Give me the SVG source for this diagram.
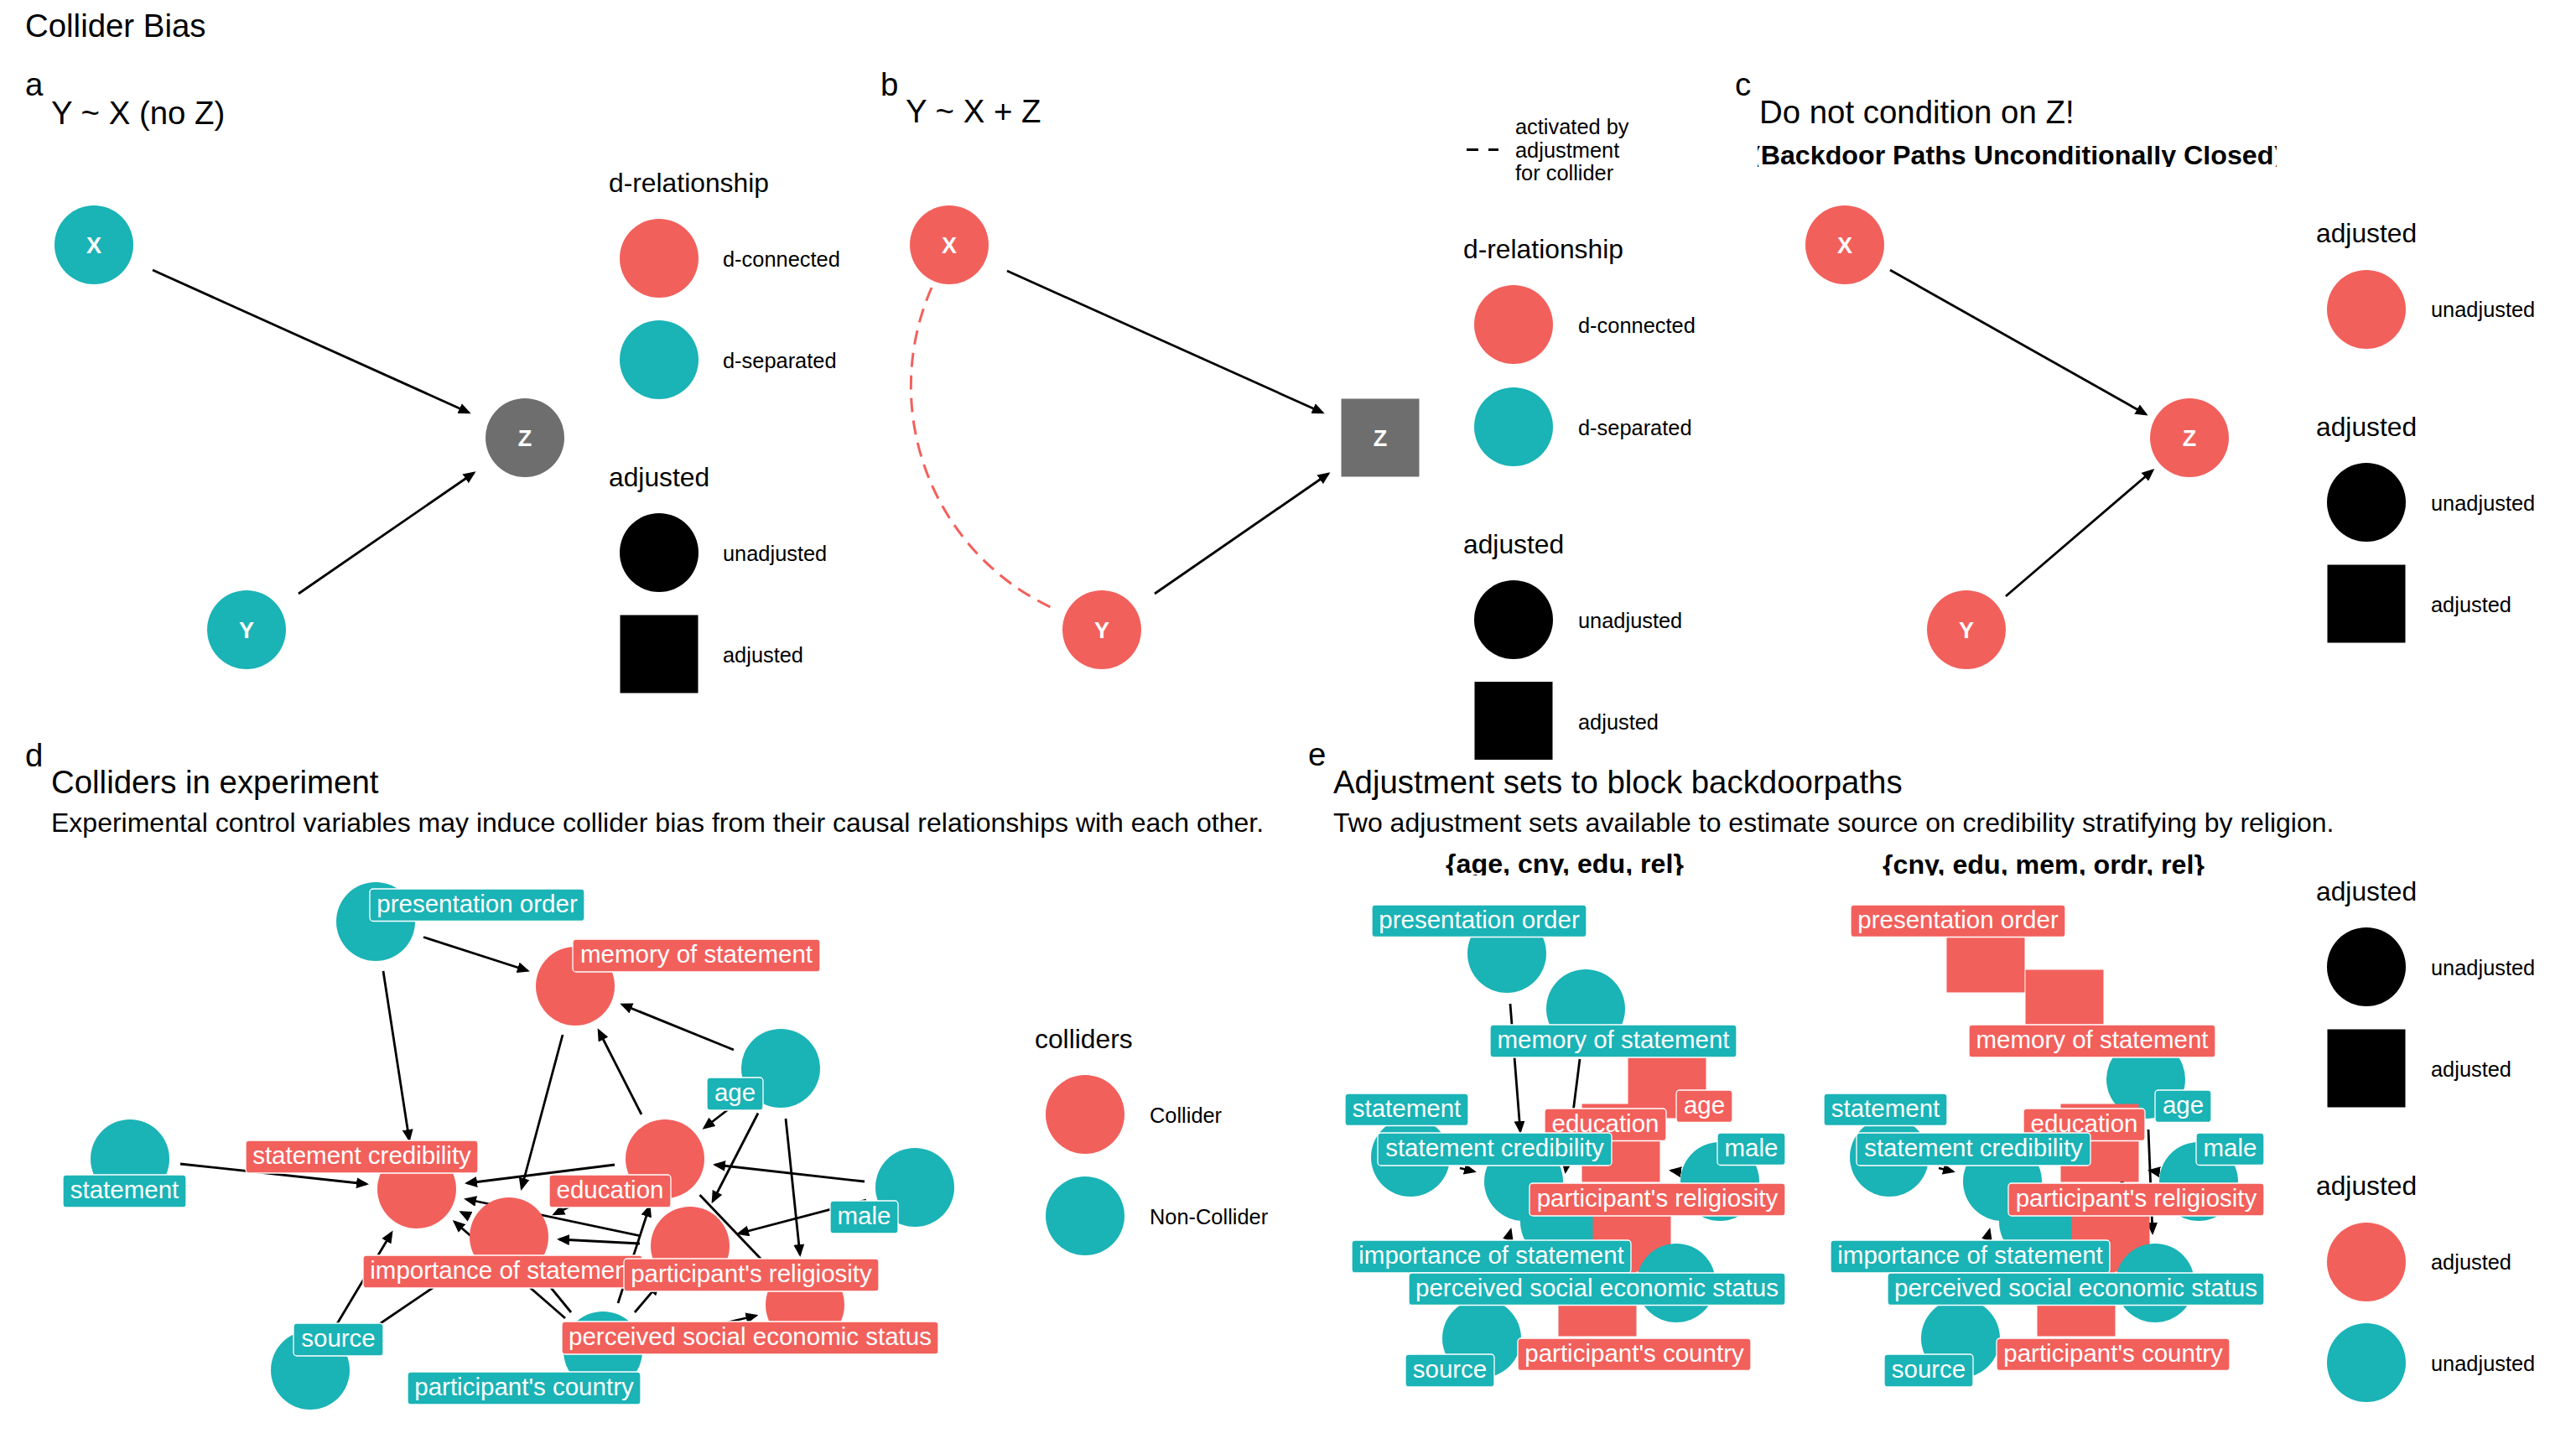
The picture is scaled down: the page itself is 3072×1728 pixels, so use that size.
<svg xmlns="http://www.w3.org/2000/svg" width="3072" height="1728" viewBox="0 0 3072 1728">
<style>
text{font-family:"Liberation Sans",Arial,Helvetica,sans-serif;fill:#000}
.ttl{font-size:38.4px}
.sub{font-size:32px}
.subb{font-size:32.2px;font-weight:bold}
.lt{font-size:31.8px}
.lx{font-size:25.4px}
.let{font-size:27px;font-weight:bold;fill:#fff;text-anchor:middle}
.nl{font-size:29.5px;fill:#fff;text-anchor:middle}
.r{fill:#F2605C}
.c{fill:#1AB3B6}
.g{fill:#6E6E6E}
.k{fill:#000}
.lr{fill:#F2605C;stroke:#fff;stroke-width:1.3}
.lc{fill:#1AB3B6;stroke:#fff;stroke-width:1.3}
.e{stroke:#000;stroke-width:2.8;fill:none;marker-end:url(#arr)}
</style>
<defs>
<marker id="arr" viewBox="0 0 15 13" refX="12" refY="6.5" markerWidth="15" markerHeight="13" markerUnits="userSpaceOnUse" orient="auto">
<path d="M0,0 L15,6.5 L0,13 z" fill="#000"/>
</marker>
<clipPath id="clipc"><rect x="2096" y="174" width="619" height="25"/></clipPath>
<clipPath id="clips"><rect x="1590" y="1017" width="1150" height="27"/></clipPath>
</defs>
<rect width="3072" height="1728" fill="#fff"/>

<text class="ttl" x="30" y="44">Collider Bias</text>

<!-- Panel a -->
<g id="panel-a">
<text class="ttl" x="30" y="114">a</text>
<text class="ttl" x="61" y="148">Y ~ X (no Z)</text>
<g id="a-edges">
<path class="e" d="M182,322 L559,492"/>
<path class="e" d="M356,708 L565,564"/>
</g>
<g id="a-X"><circle class="c" cx="112" cy="292" r="47"/><text class="let" x="112" y="302">X</text></g>
<g id="a-Z"><circle class="g" cx="626" cy="522" r="47"/><text class="let" x="626" y="532">Z</text></g>
<g id="a-Y"><circle class="c" cx="294" cy="751" r="47"/><text class="let" x="294" y="761">Y</text></g>
<g id="a-legend">
<text class="lt" x="726" y="229">d-relationship</text>
<circle class="r" cx="786" cy="308" r="47"/><text class="lx" x="862" y="318">d-connected</text>
<circle class="c" cx="786" cy="429" r="47"/><text class="lx" x="862" y="439">d-separated</text>
<text class="lt" x="726" y="580">adjusted</text>
<circle class="k" cx="786" cy="659" r="47"/><text class="lx" x="862" y="669">unadjusted</text>
<rect class="k" x="739.5" y="733.5" width="93" height="93"/><text class="lx" x="862" y="790">adjusted</text>
</g>
</g>

<!-- Panel b -->
<g id="panel-b">
<text class="ttl" x="1050" y="114">b</text>
<text class="ttl" x="1080" y="146">Y ~ X + Z</text>
<g id="b-edges">
<path d="M1111,343 A292,292 0 0 0 1257,726" fill="none" stroke="#F2605C" stroke-width="3" stroke-dasharray="17,10"/>
<path class="e" d="M1201,323 L1577,492"/>
<path class="e" d="M1377,708 L1584,565"/>
</g>
<g id="b-X"><circle class="r" cx="1132" cy="292" r="47"/><text class="let" x="1132" y="302">X</text></g>
<g id="b-Z"><rect class="g" x="1599.5" y="475.5" width="93" height="93"/><text class="let" x="1646" y="532">Z</text></g>
<g id="b-Y"><circle class="r" cx="1314" cy="751" r="47"/><text class="let" x="1314" y="761">Y</text></g>
<g id="b-legend">
<path d="M1749,178.5 H1763 M1775,178.5 H1787" stroke="#000" stroke-width="3"/>
<text class="lx" x="1807" y="160">activated by</text>
<text class="lx" x="1807" y="188">adjustment</text>
<text class="lx" x="1807" y="215">for collider</text>
<text class="lt" x="1745" y="308">d-relationship</text>
<circle class="r" cx="1805" cy="387" r="47"/><text class="lx" x="1882" y="397">d-connected</text>
<circle class="c" cx="1805" cy="509" r="47"/><text class="lx" x="1882" y="519">d-separated</text>
<text class="lt" x="1745" y="660">adjusted</text>
<circle class="k" cx="1805" cy="739" r="47"/><text class="lx" x="1882" y="749">unadjusted</text>
<rect class="k" x="1758.5" y="813" width="93" height="93"/><text class="lx" x="1882" y="870">adjusted</text>
</g>
</g>

<!-- Panel c -->
<g id="panel-c">
<text class="ttl" x="2069" y="114">c</text>
<text class="ttl" x="2098" y="147">Do not condition on Z!</text>
<text class="subb" x="2089" y="196" clip-path="url(#clipc)">(Backdoor Paths Unconditionally Closed)</text>
<g id="c-edges">
<path class="e" d="M2254,322 L2559,494"/>
<path class="e" d="M2392,711 L2567,561"/>
</g>
<g id="c-X"><circle class="r" cx="2200" cy="292" r="47"/><text class="let" x="2200" y="302">X</text></g>
<g id="c-Z"><circle class="r" cx="2611" cy="522" r="47"/><text class="let" x="2611" y="532">Z</text></g>
<g id="c-Y"><circle class="r" cx="2345" cy="751" r="47"/><text class="let" x="2345" y="761">Y</text></g>
<g id="c-legend">
<text class="lt" x="2762" y="289">adjusted</text>
<circle class="r" cx="2822" cy="369" r="47"/><text class="lx" x="2899" y="378">unadjusted</text>
<text class="lt" x="2762" y="520">adjusted</text>
<circle class="k" cx="2822" cy="599" r="47"/><text class="lx" x="2899" y="609">unadjusted</text>
<rect class="k" x="2775.5" y="673.5" width="93" height="93"/><text class="lx" x="2899" y="730">adjusted</text>
</g>
</g>

<!-- Panel d -->
<g id="panel-d">
<text class="ttl" x="30" y="914">d</text>
<text class="ttl" x="61" y="946">Colliders in experiment</text>
<text class="sub" x="61" y="992">Experimental control variables may induce collider bias from their causal relationships with each other.</text>
<g id="d-edges">
<path class="e" d="M505,1117.5 L629,1157.5"/>
<path class="e" d="M457,1158 L488,1359"/>
<path class="e" d="M875,1252 L742,1198"/>
<path class="e" d="M765,1329 L714,1229"/>
<path class="e" d="M671,1234 L622,1417"/>
<path class="e" d="M884,1311 L840,1345"/>
<path class="e" d="M904,1327.5 L850,1432.5"/>
<path class="e" d="M937,1334 L954,1496"/>
<path class="e" d="M1031,1409 L853,1389"/>
<path class="e" d="M1033,1431 L881,1471"/>
<path class="e" d="M733,1389 L557,1411"/>
<path class="e" d="M215,1388 L437,1412"/>
<path class="e" d="M764,1474 L556,1430"/>
<path class="e" d="M763,1483 L667,1478"/>
<path class="e" d="M739,1409 L661,1448"/>
<path class="e" d="M560,1450.5 L550,1445.5"/>
<path class="e" d="M400,1582 L467,1470"/>
<path class="e" d="M420,1601 L557,1508"/>
<path class="e" d="M674,1572 L542,1457"/>
<path class="e" d="M681,1565 L645,1521"/>
<path class="e" d="M757,1565 L785,1532"/>
<path class="e" d="M737,1554 L774.5,1439"/>
<path class="e" d="M777.5,1598 L901.5,1569"/>
<path class="e" d="M834.5,1425 L918.5,1513"/>
</g>
<g id="d-nodes">
<g id="d-order"><circle class="c" cx="448" cy="1099" r="47"/></g>
<g id="d-memory"><circle class="r" cx="686" cy="1176" r="47"/></g>
<g id="d-age"><circle class="c" cx="931" cy="1274" r="47"/></g>
<g id="d-education"><circle class="r" cx="793" cy="1382" r="47"/></g>
<g id="d-statement"><circle class="c" cx="155" cy="1382" r="47"/></g>
<g id="d-credibility"><circle class="r" cx="497" cy="1418" r="47"/></g>
<g id="d-male"><circle class="c" cx="1091" cy="1416" r="47"/></g>
<g id="d-importance"><circle class="r" cx="607" cy="1475" r="47"/></g>
<g id="d-religiosity"><circle class="r" cx="823" cy="1486" r="47"/></g>
<g id="d-ses"><circle class="r" cx="960" cy="1556" r="47"/></g>
<g id="d-source"><circle class="c" cx="370" cy="1634" r="47"/></g>
<g id="d-country"><circle class="c" cx="719" cy="1611" r="47"/></g>
</g>
<g id="d-labels">
<g><rect class="lc" x="441" y="1060" width="256" height="38.5" rx="4"/><text class="nl" x="569" y="1088">presentation order</text></g>
<g><rect class="lr" x="683" y="1120" width="295" height="39" rx="4"/><text class="nl" x="830.5" y="1148">memory of statement</text></g>
<g><rect class="lc" x="843" y="1285" width="67" height="39" rx="4"/><text class="nl" x="876.5" y="1313">age</text></g>
<g><rect class="lr" x="655" y="1401" width="145" height="39" rx="4"/><text class="nl" x="727.5" y="1429">education</text></g>
<g><rect class="lc" x="75" y="1401" width="147" height="39" rx="4"/><text class="nl" x="148.5" y="1429">statement</text></g>
<g><rect class="lr" x="293" y="1360" width="277" height="39" rx="4"/><text class="nl" x="431.5" y="1388">statement credibility</text></g>
<g><rect class="lc" x="990" y="1432" width="81" height="39" rx="4"/><text class="nl" x="1030.5" y="1460">male</text></g>
<g><rect class="lr" x="433" y="1497" width="333" height="39" rx="4"/><text class="nl" x="599.5" y="1525">importance of statement</text></g>
<g><rect class="lr" x="744" y="1501" width="304" height="39" rx="4"/><text class="nl" x="896" y="1529">participant's religiosity</text></g>
<g><rect class="lr" x="670" y="1576" width="449" height="39" rx="4"/><text class="nl" x="894.5" y="1604">perceived social economic status</text></g>
<g><rect class="lc" x="350" y="1578" width="107" height="39" rx="4"/><text class="nl" x="403.5" y="1606">source</text></g>
<g><rect class="lc" x="486" y="1636" width="278" height="39" rx="4"/><text class="nl" x="625" y="1664">participant's country</text></g>
</g>
<g id="d-legend">
<text class="lt" x="1234" y="1250">colliders</text>
<circle class="r" cx="1294" cy="1329" r="47"/><text class="lx" x="1371" y="1339">Collider</text>
<circle class="c" cx="1294" cy="1450" r="47"/><text class="lx" x="1371" y="1460">Non-Collider</text>
</g>
</g>

<!-- Panel e -->
<g id="panel-e">
<text class="ttl" x="1560" y="913">e</text>
<text class="ttl" x="1590" y="946">Adjustment sets to block backdoorpaths</text>
<text class="sub" x="1590" y="992">Two adjustment sets available to estimate source on credibility stratifying by religion.</text>
<g clip-path="url(#clips)">
<text class="subb" x="1866" y="1041" text-anchor="middle">{age, cny, edu, rel}</text>
<text class="subb" x="2437" y="1042" text-anchor="middle">{cny, edu, mem, ordr, rel}</text>
</g>

<g id="e1-edges">
<path class="e" d="M1801,1197 L1813,1349"/>
<path class="e" d="M1884,1263 L1867,1397"/>
<path class="e" d="M1741,1393 L1758,1397"/>
<path class="e" d="M1782.5,1538 L1801.5,1467"/>
<path class="e" d="M1800,1546 L1827,1507"/>
<path class="e" d="M2000,1397 L1993,1396"/>
<path class="e" d="M2000,1437 L1998,1440"/>
</g>
<g id="e2-edges">
<path class="e" d="M2312,1393 L2329,1397"/>
<path class="e" d="M2353.5,1538 L2372.5,1467"/>
<path class="e" d="M2371,1546 L2398,1507"/>
<path class="e" d="M2562,1347 L2567,1470"/>
<path class="e" d="M2546,1345 L2530,1411.5"/>
<path class="e" d="M2571,1397 L2564,1396"/>
<path class="e" d="M2571,1437 L2569,1440"/>
</g>

<g id="e1-nodes">
<g id="e1-order"><circle class="c" cx="1797" cy="1137" r="47"/></g>
<g id="e1-memory"><circle class="c" cx="1891" cy="1203" r="47"/></g>
<g id="e1-age"><rect class="r" x="1941.5" y="1240.5" width="93" height="93"/></g>
<g id="e1-statement"><circle class="c" cx="1682" cy="1380" r="47"/></g>
<g id="e1-education"><rect class="r" x="1886.5" y="1316.5" width="93" height="93"/></g>
<g id="e1-credibility"><circle class="c" cx="1817" cy="1409" r="47"/></g>
<g id="e1-male"><circle class="c" cx="2051" cy="1409" r="47"/></g>
<g id="e1-importance"><circle class="c" cx="1860" cy="1457" r="47"/></g>
<g id="e1-religiosity"><rect class="r" x="1899.5" y="1423.5" width="93" height="93"/></g>
<g id="e1-ses"><circle class="c" cx="1999" cy="1530" r="47"/></g>
<g id="e1-country"><rect class="r" x="1858.5" y="1500.5" width="93" height="93"/></g>
<g id="e1-source"><circle class="c" cx="1767" cy="1596" r="47"/></g>
</g>
<g id="e1-labels">
<g><rect class="lc" x="1636" y="1079" width="256" height="38.5" rx="4"/><text class="nl" x="1764" y="1107">presentation order</text></g>
<g><rect class="lc" x="1777" y="1222" width="294" height="39" rx="4"/><text class="nl" x="1924" y="1250">memory of statement</text></g>
<g><rect class="lr" x="1999" y="1300" width="67" height="38.5" rx="4"/><text class="nl" x="2032.5" y="1328">age</text></g>
<g><rect class="lc" x="1604" y="1304" width="147" height="38.5" rx="4"/><text class="nl" x="1677.5" y="1332">statement</text></g>
<g><rect class="lr" x="1842" y="1322" width="145" height="38.5" rx="4"/><text class="nl" x="1914.5" y="1350">education</text></g>
<g><rect class="lc" x="1643" y="1351" width="279" height="39" rx="4"/><text class="nl" x="1782.5" y="1379">statement credibility</text></g>
<g><rect class="lc" x="2048" y="1351" width="81" height="38.5" rx="4"/><text class="nl" x="2088.5" y="1379">male</text></g>
<g><rect class="lr" x="1824" y="1411" width="305" height="39" rx="4"/><text class="nl" x="1976.5" y="1439">participant's religiosity</text></g>
<g><rect class="lc" x="1612" y="1479" width="333" height="39" rx="4"/><text class="nl" x="1778.5" y="1507">importance of statement</text></g>
<g><rect class="lc" x="1680" y="1518" width="449" height="38.5" rx="4"/><text class="nl" x="1904.5" y="1546">perceived social economic status</text></g>
<g><rect class="lr" x="1810" y="1596" width="278" height="38.5" rx="4"/><text class="nl" x="1949" y="1624">participant's country</text></g>
<g><rect class="lc" x="1676" y="1615" width="106" height="39" rx="4"/><text class="nl" x="1729" y="1643">source</text></g>
</g>

<g id="e2-nodes">
<g id="e2-order"><rect class="r" x="2321.5" y="1090.5" width="93" height="93"/></g>
<g id="e2-memory"><rect class="r" x="2415.5" y="1156.5" width="93" height="93"/></g>
<g id="e2-age"><circle class="c" cx="2559" cy="1287" r="47"/></g>
<g id="e2-statement"><circle class="c" cx="2253" cy="1380" r="47"/></g>
<g id="e2-education"><rect class="r" x="2457.5" y="1316.5" width="93" height="93"/></g>
<g id="e2-credibility"><circle class="c" cx="2388" cy="1409" r="47"/></g>
<g id="e2-male"><circle class="c" cx="2622" cy="1409" r="47"/></g>
<g id="e2-importance"><circle class="c" cx="2431" cy="1457" r="47"/></g>
<g id="e2-religiosity"><rect class="r" x="2470.5" y="1423.5" width="93" height="93"/></g>
<g id="e2-ses"><circle class="c" cx="2570" cy="1530" r="47"/></g>
<g id="e2-country"><rect class="r" x="2429.5" y="1500.5" width="93" height="93"/></g>
<g id="e2-source"><circle class="c" cx="2338" cy="1596" r="47"/></g>
</g>
<g id="e2-labels">
<g><rect class="lr" x="2207" y="1079" width="256" height="38.5" rx="4"/><text class="nl" x="2335" y="1107">presentation order</text></g>
<g><rect class="lr" x="2348" y="1222" width="294" height="39" rx="4"/><text class="nl" x="2495" y="1250">memory of statement</text></g>
<g><rect class="lc" x="2570" y="1300" width="67" height="38.5" rx="4"/><text class="nl" x="2603.5" y="1328">age</text></g>
<g><rect class="lc" x="2175" y="1304" width="147" height="38.5" rx="4"/><text class="nl" x="2248.5" y="1332">statement</text></g>
<g><rect class="lr" x="2413" y="1322" width="145" height="38.5" rx="4"/><text class="nl" x="2485.5" y="1350">education</text></g>
<g><rect class="lc" x="2214" y="1351" width="279" height="39" rx="4"/><text class="nl" x="2353.5" y="1379">statement credibility</text></g>
<g><rect class="lc" x="2619" y="1351" width="81" height="38.5" rx="4"/><text class="nl" x="2659.5" y="1379">male</text></g>
<g><rect class="lr" x="2395" y="1411" width="305" height="39" rx="4"/><text class="nl" x="2547.5" y="1439">participant's religiosity</text></g>
<g><rect class="lc" x="2183" y="1479" width="333" height="39" rx="4"/><text class="nl" x="2349.5" y="1507">importance of statement</text></g>
<g><rect class="lc" x="2251" y="1518" width="449" height="38.5" rx="4"/><text class="nl" x="2475.5" y="1546">perceived social economic status</text></g>
<g><rect class="lr" x="2381" y="1596" width="278" height="38.5" rx="4"/><text class="nl" x="2520" y="1624">participant's country</text></g>
<g><rect class="lc" x="2247" y="1615" width="106" height="39" rx="4"/><text class="nl" x="2300" y="1643">source</text></g>
</g>

<g id="e-legend">
<text class="lt" x="2762" y="1074">adjusted</text>
<circle class="k" cx="2822" cy="1153" r="47"/><text class="lx" x="2899" y="1163">unadjusted</text>
<rect class="k" x="2775.5" y="1227.5" width="93" height="93"/><text class="lx" x="2899" y="1284">adjusted</text>
<text class="lt" x="2762" y="1425">adjusted</text>
<circle class="r" cx="2822" cy="1505" r="47"/><text class="lx" x="2899" y="1514">adjusted</text>
<circle class="c" cx="2822" cy="1625" r="47"/><text class="lx" x="2899" y="1635">unadjusted</text>
</g>
</g>
</svg>
